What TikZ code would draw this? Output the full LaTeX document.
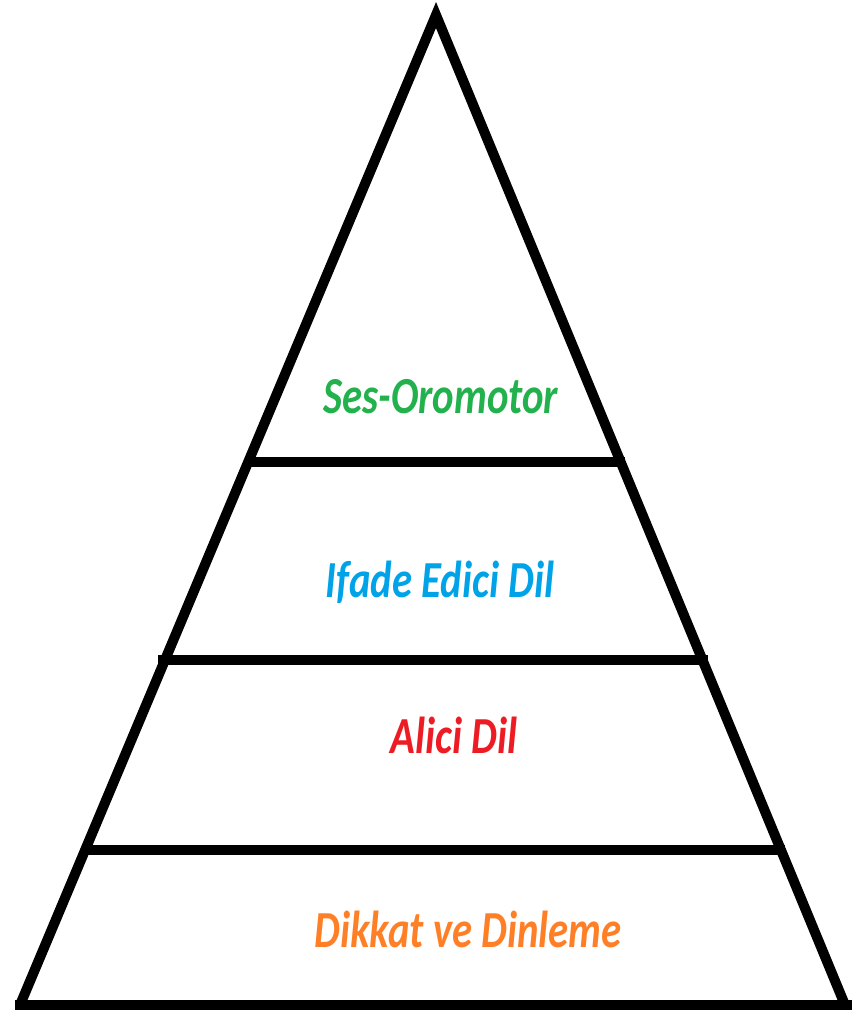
\documentclass[tikz,border=0pt]{standalone}
\usepackage{fontspec}
\setmainfont{Carlito}
\definecolor{pgreen}{HTML}{22B14C}
\definecolor{pblue}{HTML}{00A2E8}
\definecolor{pred}{HTML}{ED1C24}
\definecolor{porange}{HTML}{FF7F27}
\newcommand{\tall}[1]{\scalebox{1.02}[1.3]{#1}}
\begin{document}
\begin{tikzpicture}[x=1pt, y=-1pt, line width=10pt]
\useasboundingbox (0,0) rectangle (852,1015);
\tikzstyle{every node} = [font=\fontsize{40}{44}\selectfont\bfseries\itshape, inner sep=0pt, anchor=base]
\coordinate (top) at (436,15);
\coordinate (bl) at (20,1005);
\coordinate (br) at (845,1005);
\draw[line join=miter] (bl) -- (top) -- (br);
\draw (15,1005) -- (852,1005);
\draw (248,462) -- (625,462);
\draw (158,660) -- (708,660);
\draw (85,850) -- (785,850);
\node[text=pgreen] (ses) at (441,413) {\tall{Ses-Oromotor}};
\node[text=pblue] (ifade) at (440,597) {\tall{Ifade Edici Dil}};
\node[text=pred] (alici) at (454,753) {\tall{Alici Dil}};
\node[text=porange] (dikkat) at (468,947) {\tall{Dikkat ve Dinleme}};
\end{tikzpicture}
\end{document}
